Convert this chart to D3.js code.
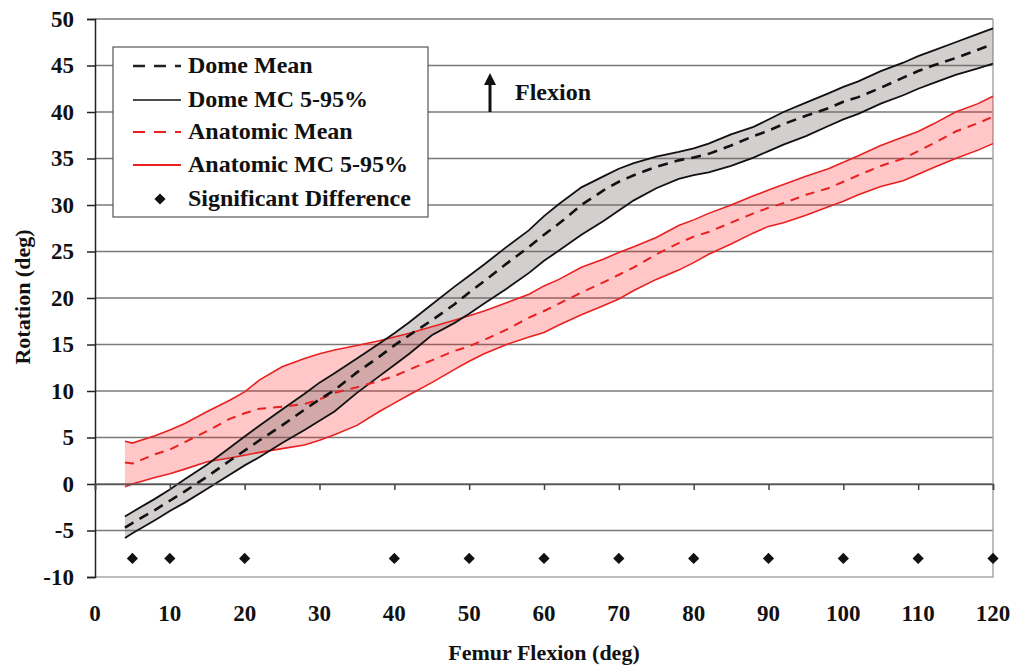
<html>
<head>
<meta charset="UTF-8">
<title>Rotation vs Femur Flexion</title>
<script src="https://cdn.jsdelivr.net/npm/d3@7"></script>
<style>
  body { margin: 0; background: #fff; }
  .grid line { stroke: #7a7a7a; stroke-width: 1.5; }
</style>
</head>
<body>
<div id="chart"></div>
<script>
// femur flexion (deg)
var flexion = [4, 5, 8, 10, 12, 15, 18, 20, 22, 25, 28, 30, 32, 35, 38, 40, 42, 45, 48, 50, 52, 55, 58, 60, 62, 65, 68, 70, 72, 75, 78, 80, 82, 85, 88, 90, 92, 95, 98, 100, 102, 105, 108, 110, 112, 115, 118, 120];

// dome design
var domeMean = [-4.7, -4.2, -2.8, -1.8, -0.8, 0.8, 2.5, 3.6, 4.7, 6.3, 8.0, 9.1, 10.1, 12.0, 13.7, 14.9, 16.0, 17.6, 19.3, 20.6, 21.8, 23.7, 25.5, 26.8, 28.0, 30.0, 31.6, 32.5, 33.2, 34.1, 34.8, 35.1, 35.5, 36.4, 37.4, 38.0, 38.7, 39.6, 40.4, 41.1, 41.6, 42.6, 43.7, 44.4, 45.0, 45.8, 46.7, 47.3];
var domeHigh = [-3.5, -3.0, -1.6, -0.6, 0.5, 2.1, 3.9, 5.1, 6.3, 8.0, 9.7, 10.9, 11.9, 13.5, 15.1, 16.2, 17.4, 19.3, 21.2, 22.4, 23.6, 25.5, 27.3, 28.8, 30.1, 31.9, 33.1, 33.9, 34.5, 35.2, 35.7, 36.1, 36.6, 37.6, 38.4, 39.2, 40.0, 41.0, 42.0, 42.7, 43.3, 44.4, 45.3, 46.0, 46.6, 47.5, 48.4, 49.0];
var domeLow = [-5.8, -5.3, -3.9, -2.9, -2.0, -0.5, 1.0, 2.0, 2.9, 4.4, 5.8, 6.8, 7.8, 9.8, 11.6, 12.8, 14.0, 16.0, 17.3, 18.3, 19.4, 21.0, 22.7, 24.0, 25.1, 26.8, 28.3, 29.4, 30.5, 31.8, 32.8, 33.2, 33.5, 34.2, 35.1, 35.8, 36.5, 37.4, 38.5, 39.2, 39.8, 40.9, 41.8, 42.5, 43.1, 44.0, 44.7, 45.2];

// anatomic design
var anatMean = [2.3, 2.2, 3.2, 3.7, 4.5, 5.7, 7.0, 7.6, 8.1, 8.3, 8.6, 9.1, 9.8, 10.4, 11.1, 11.6, 12.3, 13.3, 14.3, 14.8, 15.5, 16.6, 17.9, 18.6, 19.4, 20.6, 21.7, 22.5, 23.3, 24.7, 25.9, 26.6, 27.1, 28.1, 29.1, 29.7, 30.2, 31.1, 31.8, 32.5, 33.2, 34.2, 35.0, 35.8, 36.6, 37.9, 38.8, 39.5];
var anatHigh = [4.6, 4.4, 5.2, 5.8, 6.5, 7.8, 9.0, 9.9, 11.2, 12.6, 13.5, 14.0, 14.4, 14.9, 15.4, 15.8, 16.2, 16.9, 17.6, 18.1, 18.6, 19.5, 20.4, 21.3, 22.0, 23.3, 24.2, 24.9, 25.5, 26.5, 27.8, 28.4, 29.1, 30.0, 31.0, 31.6, 32.2, 33.1, 33.9, 34.6, 35.3, 36.4, 37.3, 37.9, 38.7, 40.0, 40.9, 41.7];
var anatLow = [-0.3, 0.0, 0.7, 1.1, 1.6, 2.4, 2.8, 3.1, 3.4, 3.8, 4.2, 4.7, 5.3, 6.3, 7.8, 8.7, 9.6, 10.9, 12.3, 13.2, 14.0, 15.0, 15.8, 16.3, 17.1, 18.2, 19.2, 19.9, 20.8, 22.0, 23.0, 23.8, 24.7, 25.8, 27.0, 27.7, 28.1, 28.9, 29.8, 30.4, 31.1, 32.0, 32.6, 33.3, 34.0, 35.0, 35.9, 36.6];

// significant difference markers
var sigX = [5, 10, 20, 40, 50, 60, 70, 80, 90, 100, 110, 120];
var sigY = -8;

var xTicks = d3.range(0, 121, 10);
var yTicks = d3.range(-10, 51, 5);

var legendLabels = ["Dome Mean", "Dome MC 5-95%", "Anatomic Mean", "Anatomic MC 5-95%", "Significant Difference"];

var FONT = "Liberation Serif";
var width = 1014, height = 669;
var margin = {left: 95, right: 21, top: 19, bottom: 92};

var svg = d3.select("#chart").append("svg")
    .attr("width", width)
    .attr("height", height)
    .attr("font-family", FONT)
    .attr("font-weight", "bold");

var x = d3.scaleLinear().domain([0, 120]).range([margin.left, width - margin.right]);
var y = d3.scaleLinear().domain([-10, 50]).range([height - margin.bottom, margin.top]);

// gridlines
svg.append("g").attr("class", "grid")
  .selectAll("line").data(yTicks.filter(function(d){ return d > -10; }))
  .enter().append("line")
    .attr("x1", x(0)).attr("x2", x(120))
    .attr("y1", function(d){ return y(d); })
    .attr("y2", function(d){ return y(d); });

// plot area border (right and bottom)
svg.append("path")
    .attr("d", "M" + x(120) + "," + y(50) + "V" + y(-10) + "H" + x(0))
    .attr("fill", "none").attr("stroke", "#a8a8a8").attr("stroke-width", 1.5);

var data = flexion.map(function(f, i){
  return {x: f, dm: domeMean[i], dh: domeHigh[i], dl: domeLow[i],
          am: anatMean[i], ah: anatHigh[i], al: anatLow[i]};
});

function band(hi, lo) {
  return d3.area()
    .x(function(d){ return x(d.x); })
    .y0(function(d){ return y(d[lo]); })
    .y1(function(d){ return y(d[hi]); });
}
function line(k) {
  return d3.line()
    .x(function(d){ return x(d.x); })
    .y(function(d){ return y(d[k]); });
}

// bands
svg.append("path").datum(data)
    .attr("d", band("ah", "al"))
    .attr("fill", "rgb(255,0,0)").attr("fill-opacity", 0.22);
svg.append("path").datum(data)
    .attr("d", band("dh", "dl"))
    .attr("fill", "rgb(110,95,95)").attr("fill-opacity", 0.3);

// bound lines
["ah", "al"].forEach(function(k){
  svg.append("path").datum(data).attr("d", line(k))
    .attr("fill", "none").attr("stroke", "#e82020").attr("stroke-width", 1.6);
});
["dh", "dl"].forEach(function(k){
  svg.append("path").datum(data).attr("d", line(k))
    .attr("fill", "none").attr("stroke", "#111").attr("stroke-width", 1.8);
});

// means
svg.append("path").datum(data).attr("d", line("am"))
    .attr("fill", "none").attr("stroke", "#e82020").attr("stroke-width", 2)
    .attr("stroke-dasharray", "9,7");
svg.append("path").datum(data).attr("d", line("dm"))
    .attr("fill", "none").attr("stroke", "#111").attr("stroke-width", 2.6)
    .attr("stroke-dasharray", "10,7");

// significant difference diamonds
var diamond = d3.symbol().type(d3.symbolDiamond2).size(80);
svg.append("g").selectAll("path").data(sigX)
  .enter().append("path")
    .attr("d", diamond)
    .attr("transform", function(d){ return "translate(" + x(d) + "," + y(sigY) + ")"; })
    .attr("fill", "#111");

// y axis
var yAxis = svg.append("g")
    .attr("transform", "translate(" + x(0) + ",0)")
    .call(d3.axisLeft(y).tickValues(yTicks).tickSize(8).tickPadding(13)
      .tickFormat(function(d){ return String(d); }));
yAxis.attr("font-family", FONT).attr("font-size", 23);
yAxis.select(".domain").attr("stroke", "#222").attr("stroke-width", 1.5);
yAxis.selectAll(".tick line").attr("stroke", "#222").attr("stroke-width", 1.5);
yAxis.selectAll("text").attr("fill", "#111");

// x axis line at zero with ticks, labels at bottom
var xAxis = svg.append("g")
    .attr("transform", "translate(0," + y(0) + ")")
    .call(d3.axisBottom(x).tickValues(xTicks).tickSize(6).tickFormat(""));
xAxis.select(".domain").attr("stroke", "#555").attr("stroke-width", 1.5);
xAxis.selectAll(".tick line").attr("stroke", "#444").attr("stroke-width", 1.5);

svg.append("g").selectAll("text").data(xTicks)
  .enter().append("text")
    .attr("x", function(d){ return x(d); })
    .attr("y", 621)
    .attr("text-anchor", "middle")
    .attr("font-size", 23)
    .attr("fill", "#111")
    .text(function(d){ return d; });

// axis titles
svg.append("text")
    .attr("x", 544).attr("y", 660)
    .attr("text-anchor", "middle")
    .attr("font-size", 22)
    .attr("fill", "#111")
    .text("Femur Flexion (deg)");
svg.append("text")
    .attr("transform", "translate(30," + 297 + ") rotate(-90)")
    .attr("text-anchor", "middle")
    .attr("font-size", 22)
    .attr("fill", "#111")
    .text("Rotation (deg)");

// flexion annotation
svg.append("defs").append("marker")
    .attr("id", "arrow").attr("viewBox", "0 0 10 10")
    .attr("refX", 5).attr("refY", 5)
    .attr("markerWidth", 4).attr("markerHeight", 4)
    .attr("orient", "auto")
  .append("path").attr("d", "M0,0L10,5L0,10z").attr("fill", "#111");
svg.append("line")
    .attr("x1", 490).attr("x2", 490)
    .attr("y1", y(40)).attr("y2", 79)
    .attr("stroke", "#111").attr("stroke-width", 3)
    .attr("marker-end", "url(#arrow)");
svg.append("text")
    .attr("x", 515).attr("y", 100)
    .attr("font-size", 24)
    .attr("fill", "#111")
    .text("Flexion");

// legend
var legend = svg.append("g").attr("transform", "translate(113,47)");
legend.append("rect")
    .attr("width", 315).attr("height", 170)
    .attr("fill", "#fff").attr("stroke", "#555").attr("stroke-width", 1.2);
var rowY = [19, 53, 85, 118, 152];
var styles = [
  {stroke: "#222", dash: "12,9", w: 2.5},
  {stroke: "#111", dash: null, w: 1.6},
  {stroke: "#e82020", dash: "12,9", w: 2},
  {stroke: "#e82020", dash: null, w: 2},
  null
];
legendLabels.forEach(function(lab, i){
  var s = styles[i];
  if (s) {
    legend.append("line")
      .attr("x1", 20).attr("x2", 68)
      .attr("y1", rowY[i]).attr("y2", rowY[i])
      .attr("stroke", s.stroke).attr("stroke-width", s.w)
      .attr("stroke-dasharray", s.dash);
  } else {
    legend.append("path")
      .attr("d", diamond)
      .attr("transform", "translate(47," + rowY[i] + ")")
      .attr("fill", "#111");
  }
  legend.append("text")
    .attr("x", 75).attr("y", rowY[i] + 7)
    .attr("font-size", 24)
    .attr("fill", "#111")
    .text(lab);
});
</script>
</body>
</html>
